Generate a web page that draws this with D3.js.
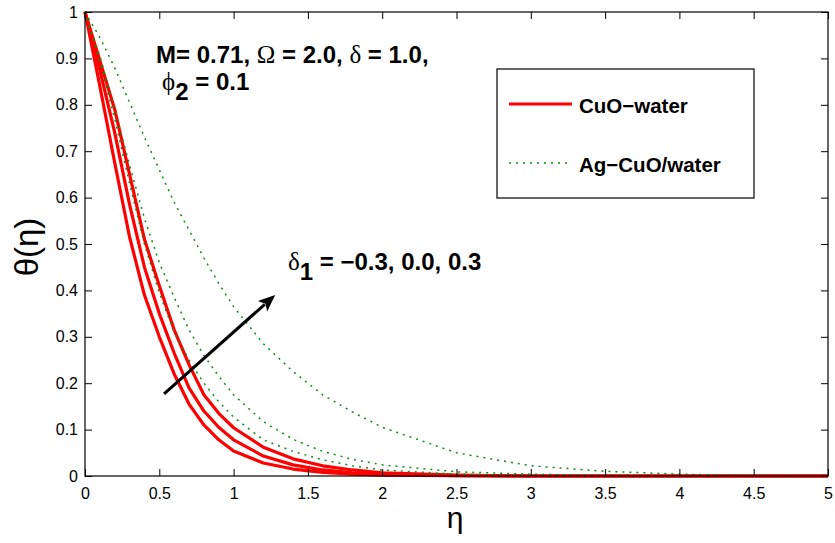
<!DOCTYPE html>
<html>
<head>
<meta charset="utf-8">
<script src="https://cdn.jsdelivr.net/npm/d3@7"></script>
<style>
  html, body { margin: 0; padding: 0; background: #fff; }
  svg { display: block; }
  text { font-family: "Liberation Sans", Arial, Helvetica, sans-serif; }
</style>
</head>
<body>
<svg id="chart" width="835" height="543"></svg>
<script>
// ---- data ----
const eta = [0, 0.1, 0.2, 0.3, 0.4, 0.5, 0.6, 0.7, 0.8, 0.9, 1.0, 1.2, 1.4, 1.6, 1.8, 2.0, 2.5, 3.0, 3.5, 4.0, 4.5, 5.0];

// CuO-water, delta1 = -0.3, 0.0, 0.3
const cuoA = [1, 0.84, 0.675, 0.515, 0.39, 0.30, 0.22, 0.155, 0.11, 0.078, 0.054, 0.028, 0.015, 0.008, 0.004, 0.002, 0.001, 0, 0, 0, 0, 0];
const cuoB = [1, 0.875, 0.74, 0.585, 0.45, 0.35, 0.265, 0.19, 0.14, 0.105, 0.078, 0.043, 0.024, 0.013, 0.007, 0.004, 0.001, 0, 0, 0, 0, 0];
const cuoC = [1, 0.895, 0.79, 0.65, 0.51, 0.41, 0.315, 0.24, 0.175, 0.135, 0.104, 0.062, 0.037, 0.022, 0.013, 0.007, 0.002, 0, 0, 0, 0, 0];

// Ag-CuO/water, delta1 = -0.3, 0.0, 0.3
const agA = [1, 0.89, 0.77, 0.63, 0.50, 0.395, 0.31, 0.25, 0.20, 0.16, 0.127, 0.078, 0.053, 0.035, 0.022, 0.013, 0.004, 0.001, 0, 0, 0, 0];
const agB = [1, 0.905, 0.79, 0.67, 0.555, 0.46, 0.385, 0.315, 0.26, 0.215, 0.175, 0.117, 0.079, 0.053, 0.036, 0.024, 0.009, 0.004, 0.001, 0, 0, 0];
const agC = [1, 0.945, 0.88, 0.805, 0.73, 0.66, 0.59, 0.53, 0.47, 0.415, 0.365, 0.285, 0.225, 0.175, 0.138, 0.105, 0.050, 0.022, 0.010, 0.004, 0.001, 0];

const xTicks = [0, 0.5, 1, 1.5, 2, 2.5, 3, 3.5, 4, 4.5, 5];
const yTicks = [0, 0.1, 0.2, 0.3, 0.4, 0.5, 0.6, 0.7, 0.8, 0.9, 1];
const legendLabels = ["CuO\u2212water", "Ag\u2212CuO/water"];

// ---- layout ----
const L = 85, R = 828, T = 12, B = 476;
const svg = d3.select("#chart");
const x = d3.scaleLinear().domain([0, 5]).range([L, R]);
const y = d3.scaleLinear().domain([0, 1]).range([B, T]);

// curves
const line = d3.line().x((d, i) => x(eta[i])).y(d => y(d));
const g = svg.append("g");
[cuoA, cuoB, cuoC].forEach(s => {
  g.append("path").attr("d", line(s)).attr("fill", "none")
    .attr("stroke", "#ff0000").attr("stroke-width", 3.2).attr("stroke-linejoin", "round");
});
[agA, agB, agC].forEach(s => {
  g.append("path").attr("d", line(s)).attr("fill", "none")
    .attr("stroke", "#108a10").attr("stroke-width", 1.5).attr("stroke-dasharray", "2,5");
});

// axes (MATLAB box style, inward ticks on all four sides)
const tk = 7;
const axB = d3.axisBottom(x).tickValues(xTicks).tickSizeInner(-tk).tickSizeOuter(0).tickPadding(12).tickFormat(d3.format("~g"));
const axT = d3.axisTop(x).tickValues(xTicks).tickSizeInner(-tk).tickSizeOuter(0).tickFormat("");
const axL = d3.axisLeft(y).tickValues(yTicks).tickSizeInner(-tk).tickSizeOuter(0).tickPadding(7).tickFormat(d3.format("~g"));
const axR = d3.axisRight(y).tickValues(yTicks).tickSizeInner(-tk).tickSizeOuter(0).tickFormat("");

function style(sel) {
  sel.selectAll(".domain").remove();
  sel.selectAll("line").attr("stroke", "#000").attr("stroke-width", 1);
  sel.selectAll("text").attr("fill", "#000").style("font-size", "16px")
    .style("font-family", "'Liberation Sans', Arial, sans-serif");
}
svg.append("g").attr("transform", `translate(0,${B})`).call(axB).call(style);
svg.append("g").attr("transform", `translate(0,${T})`).call(axT).call(style);
svg.append("g").attr("transform", `translate(${L},0)`).call(axL).call(style);
svg.append("g").attr("transform", `translate(${R},0)`).call(axR).call(style);
svg.append("rect").attr("x", L).attr("y", T).attr("width", R - L).attr("height", B - T)
  .attr("fill", "none").attr("stroke", "#000").attr("stroke-width", 1.2);

// axis labels
svg.append("text").attr("x", 455).attr("y", 528).attr("text-anchor", "middle")
  .style("font-size", "30px").text("\u03b7");
svg.append("text").attr("transform", "translate(38,247) rotate(-90)").attr("text-anchor", "middle")
  .style("font-size", "33px").text("\u03b8(\u03b7)");

// annotations
const serif = "'Liberation Serif', 'Times New Roman', serif";
const t1 = svg.append("text").attr("x", 156).attr("y", 63).style("font-size", "24px").style("font-weight", "bold");
t1.append("tspan").text("M= 0.71, ");
t1.append("tspan").style("font-family", serif).style("font-weight", "normal").style("font-size", "25px").text("\u03a9");
t1.append("tspan").text(" = 2.0, ");
t1.append("tspan").style("font-family", serif).style("font-weight", "normal").style("font-size", "25px").text("\u03b4");
t1.append("tspan").text(" = 1.0,");

const t2 = svg.append("text").attr("x", 162).attr("y", 90).style("font-size", "24px").style("font-weight", "bold");
t2.append("tspan").style("font-family", serif).style("font-weight", "normal").style("font-size", "25px").text("\u03d5");
t2.append("tspan").attr("dy", 10).text("2");
t2.append("tspan").attr("dy", -10).text(" = 0.1");

const t3 = svg.append("text").attr("x", 288).attr("y", 270).style("font-size", "24px").style("font-weight", "bold");
t3.append("tspan").style("font-family", serif).style("font-weight", "normal").style("font-size", "25px").text("\u03b4");
t3.append("tspan").attr("dy", 10).text("1");
t3.append("tspan").attr("dy", -10).text(" = \u22120.3, 0.0, 0.3");

// arrow (in data coordinates)
const a0 = [0.532, 0.177], a1 = [1.28, 0.39];
const ax0 = x(a0[0]), ay0 = y(a0[1]), ax1 = x(a1[0]), ay1 = y(a1[1]);
const ang = Math.atan2(ay1 - ay0, ax1 - ax0);
const hl = 17, hw = 7;
const bx = ax1 - hl * Math.cos(ang), by = ay1 - hl * Math.sin(ang);
svg.append("line").attr("x1", ax0).attr("y1", ay0).attr("x2", bx + 3 * Math.cos(ang)).attr("y2", by + 3 * Math.sin(ang))
  .attr("stroke", "#000").attr("stroke-width", 3);
svg.append("path").attr("d", `M${ax1},${ay1} L${bx - hw * Math.sin(ang)},${by + hw * Math.cos(ang)} L${bx + 4 * Math.cos(ang)},${by + 4 * Math.sin(ang)} L${bx + hw * Math.sin(ang)},${by - hw * Math.cos(ang)} Z`)
  .attr("fill", "#000");

// legend
const lg = svg.append("g");
lg.append("rect").attr("x", 497).attr("y", 69).attr("width", 257).attr("height", 129)
  .attr("fill", "#fff").attr("stroke", "#000").attr("stroke-width", 1.2);
lg.append("line").attr("x1", 509).attr("x2", 572).attr("y1", 104).attr("y2", 104)
  .attr("stroke", "#ff0000").attr("stroke-width", 3);
lg.append("line").attr("x1", 509).attr("x2", 572).attr("y1", 163).attr("y2", 163)
  .attr("stroke", "#108a10").attr("stroke-width", 1.5).attr("stroke-dasharray", "2,5");
lg.append("text").attr("x", 579).attr("y", 113).style("font-size", "20.5px").style("font-weight", "bold").text(legendLabels[0]);
lg.append("text").attr("x", 579).attr("y", 172).style("font-size", "20.5px").style("font-weight", "bold").text(legendLabels[1]);
</script>
</body>
</html>
